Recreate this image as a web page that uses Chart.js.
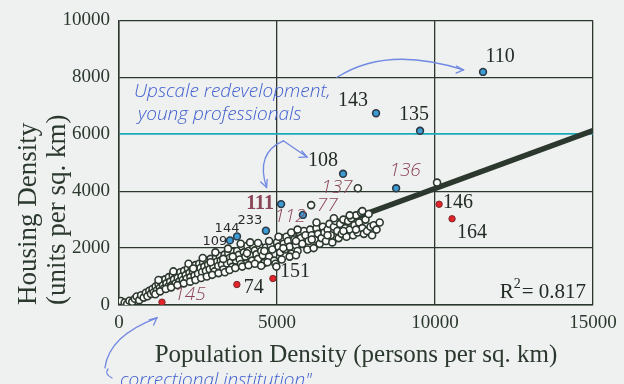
<!DOCTYPE html>
<html>
<head>
<meta charset="utf-8">
<script src="https://cdn.jsdelivr.net/npm/chart.js@4.4.1/dist/chart.umd.min.js"></script>
<style>
  html, body { margin: 0; padding: 0; background: #eff0f0; }
  #wrap { width: 624px; height: 384px; }
</style>
</head>
<body>
<div id="wrap"><canvas id="c" width="624" height="384"></canvas></div>
<script>
// Neighbourhoods: population density vs housing density
const cloudX = [30, 60, 180, 260, 330, 420, 500, 560, 640, 700, 780, 850, 900, 960, 1010,
  1060, 1100, 1160, 1200, 1250, 1290, 1330, 1390, 1420, 1460, 1500, 1550, 1580, 1620, 1670, 1700, 1740, 1790, 1820, 1860, 1910, 1940, 1980,
  2020, 2060, 2110, 2140, 2180, 2230, 2260, 2300, 2340, 2390, 2420, 2470, 2500, 2540, 2580, 2630, 2660, 2700, 2750, 2780, 2820, 2870, 2900, 2940, 2990,
  3020, 3070, 3100, 3140, 3190, 3220, 3260, 3300, 3340, 3390, 3420, 3460, 3510, 3540, 3580, 3620, 3670, 3700, 3740, 3790, 3820, 3860,
  3900, 3950, 4000, 4060, 4100, 4150, 4210, 4250, 4300, 4350, 4400, 4460, 4500, 4550, 4600, 4650, 4710, 4750, 4800, 4850, 4910, 4950, 5000,
  5050, 5100, 5150, 5210, 5250, 5300, 5350, 5400, 5460, 5500, 5550, 5600, 5650, 5710, 5750, 5800, 5850, 5900, 5960, 6000,
  6050, 6100, 6160, 6200, 6250, 6300, 6350, 6410, 6450, 6500, 6550, 6600, 6660, 6700, 6750, 6800, 6850, 6910, 6950,
  7000, 7050, 7100, 7160, 7200, 7250, 7300, 7350, 7410, 7450, 7500, 7550, 7600, 7660, 7700, 7750, 7800, 7850, 7900, 7960, 8010, 8060, 8150, 8250, 10065,
  1150, 1300, 1480, 1650, 1850, 2050, 2250, 2420, 2600, 2780, 2950, 3150, 3350, 3500, 3680, 3900, 4100, 4300, 4500, 4700, 4980,
  1250, 1720, 2200, 2650, 3050, 3450, 3850, 4150, 4400, 4750, 5050, 5450, 5650, 6250, 6800, 7300, 7700,
  2350, 2900, 3300, 3600, 4050, 4600, 5200, 5600, 6100, 6600, 7100, 7500, 5150, 5400, 5600];
const cloudY = [50, 140, 90, 40, 150, 110, 220, 300, 170, 340, 260, 430, 310, 500, 390,
  560, 450, 650, 520, 740, 600, 860, 700, 580, 900, 760, 640, 980, 820, 700, 1050, 900, 760, 1100, 960, 830, 1150, 1000,
  880, 1200, 1050, 920, 1280, 1130, 980, 1330, 1180, 1040, 1400, 1240, 1100, 1450, 1300, 1160, 1500, 1350, 1200, 1560, 1420, 1260, 1620, 1470, 1320,
  1180, 1680, 1520, 1370, 1720, 1560, 1420, 1250, 1770, 1600, 1460, 1820, 1660, 1500, 1340, 1870, 1720, 1560, 1900, 1760, 1600, 1440,
  2050, 1850, 1700, 2080, 1900, 1750, 1560, 2060, 1920, 1780, 1620, 2050, 1900, 1750, 1480, 2020, 1880, 1700, 2100, 1950, 1560, 1450, 2200,
  2050, 1850, 2350, 2150, 1950, 2400, 2250, 2050, 1800, 2450, 2300, 2100, 1900, 2550, 2350, 2150, 2600, 2450, 1950, 2250,
  2650, 2450, 2000, 2300, 2700, 2500, 2150, 2350, 2750, 2550, 2250, 2650, 2850, 2450, 2200, 2750, 2950, 2600, 2350,
  2850, 2500, 3000, 2700, 2400, 2950, 2650, 3050, 2450, 2800, 3150, 2550, 2900, 3250, 2700, 2500, 3000, 2600, 3200, 2750, 2450, 2800, 2650, 2900, 4300,
  380, 480, 560, 620, 700, 760, 820, 880, 950, 1000, 1060, 1120, 1150, 1230, 1300, 1350, 1400, 1450, 1380, 1500, 1350,
  880, 1180, 1450, 1650, 1850, 1980, 2150, 2200, 2180, 2250, 2400, 2550, 2650, 2900, 3050, 3150, 3300,
  1280, 1500, 1620, 1700, 1820, 1900, 2000, 2250, 2300, 2450, 2600, 2650, 1600, 1700, 1750];

// Highlighted neighbourhoods above the trend
const blueIds = ['110', '143', '135', '108', '136', '111', '112', '233', '144', '109'];
const blueX = [11520, 8134, 9527, 7090, 8770, 5130, 5820, 4650, 3735, 3510];
const blueY = [8190, 6740, 6120, 4610, 4100, 3545, 3165, 2610, 2410, 2270];

// Highlighted neighbourhoods below the trend
const redIds = ['146', '164', '151', '74', '145'];
const redX = [10130, 10540, 4870, 3730, 1360];
const redY = [3540, 3030, 930, 720, 100];

// Annotated ordinary points
const notedIds = ['137', '77'];
const notedX = [7560, 6080];
const notedY = [4100, 3510];

// Least-squares trend line end points and fit quality
const fitX = [0, 15000];
const fitY = [20, 6130];
const rSquared = '0.817';

const xTickValues = [0, 5000, 10000, 15000];
const yTickValues = [0, 2000, 4000, 6000, 8000, 10000];

const pts = (xs, ys) => xs.map((x, i) => ({ x: x, y: ys[i] }));

const INK = '#2c382e';
const TEXT = '#2b382d';
const BLUE_PEN = '#3f5fcf';
const MAROON = '#8a4658';

// label placement per id: dx, dy, style
const labelStyle = {
  '110': [17, -15, 'print'], '143': [-23, -12, 'print'], '135': [-6, -16, 'print'],
  '108': [-20, -13, 'print'], '151': [22, -7, 'print'], '74': [17, 3, 'print'],
  '146': [19, -2, 'print'], '164': [20, 14, 'print'],
  '233': [-16, -10, 'small'], '144': [-10, -8, 'small'], '109': [-15, 1, 'small'],
  '111': [-21, 0, 'boldpen'], '136': [9, -18, 'pen'], '137': [-21, -1, 'pen'],
  '77': [16, 0, 'pen'], '112': [-13, 2, 'pen'], '145': [28, -8, 'pen']
};

const paper = {
  id: 'paper',
  beforeDraw(chart) {
    const c = chart.ctx;
    c.save();
    c.fillStyle = '#eff0f0';
    c.fillRect(0, 0, chart.width, chart.height);
    c.restore();
  }
};

const notes = {
  id: 'notes',
  afterDatasetsDraw(chart) {
    const c = chart.ctx;
    // point labels
    [[2, blueIds], [3, redIds], [4, notedIds]].forEach(([di, ids]) => {
      const meta = chart.getDatasetMeta(di);
      meta.data.forEach((el, i) => {
        const id = ids[i];
        const [dx, dy, st] = labelStyle[id];
        c.save();
        c.textAlign = 'center';
        c.textBaseline = 'middle';
        if (st === 'print') { c.font = '20px "Liberation Serif"'; c.fillStyle = '#222b24'; }
        else if (st === 'small') { c.font = '13px "DejaVu Sans"'; c.fillStyle = '#2a2a2a'; }
        else if (st === 'boldpen') { c.font = 'bold 20px "Liberation Serif"'; c.fillStyle = MAROON; }
        else { c.font = 'italic 300 19px "Open Sans"'; c.fillStyle = MAROON; }
        c.fillText(id, el.x + dx, el.y + dy);
        c.restore();
      });
    });

    // R squared
    const a = chart.chartArea;
    c.save();
    c.fillStyle = '#222b24';
    c.textBaseline = 'alphabetic';
    c.textAlign = 'right';
    c.font = '21px "Liberation Serif"';
    const tail = '= ' + rSquared;
    const tw = c.measureText(tail).width;
    c.fillText(tail, a.right - 7, a.bottom - 7);
    c.font = '14px "Liberation Serif"';
    c.fillText('2', a.right - 7 - tw - 1, a.bottom - 17);
    const sw = c.measureText('2').width;
    c.font = '21px "Liberation Serif"';
    c.fillText('R', a.right - 7 - tw - sw - 1, a.bottom - 7);
    c.restore();

    // pen notes
    const xs = chart.scales.x, ys = chart.scales.y;
    const P = (vx, vy) => [xs.getPixelForValue(vx), ys.getPixelForValue(vy)];
    c.save();
    c.strokeStyle = '#7089e2';
    c.lineWidth = 1.3;
    c.lineCap = 'round';
    const head = (x, y, ang) => {
      c.beginPath();
      c.moveTo(x - 8 * Math.cos(ang - 0.45), y - 8 * Math.sin(ang - 0.45));
      c.lineTo(x, y);
      c.lineTo(x - 8 * Math.cos(ang + 0.45), y - 8 * Math.sin(ang + 0.45));
      c.stroke();
    };
    // toward 110
    let [x0, y0] = P(6900, 8000), [x1, y1] = P(10900, 8260);
    c.beginPath(); c.moveTo(x0, y0); c.quadraticCurveTo(x0 + 50, y0 - 32, x1, y1); c.stroke();
    head(x1, y1, 0.05);
    // toward 108 and 111
    [x0, y0] = P(5200, 5770);
    [x1, y1] = P(5950, 5200);
    c.beginPath(); c.moveTo(x0, y0); c.lineTo(x1, y1); c.stroke();
    head(x1, y1, 0.4);
    [x1, y1] = P(4670, 4130);
    c.beginPath(); c.moveTo(x0, y0); c.quadraticCurveTo(x0 - 28, y0 + 12, x1, y1); c.stroke();
    head(x1, y1, 1.2);
    // toward 145
    [x1, y1] = P(1200, -450);
    c.beginPath(); c.moveTo(x1 - 52, y1 + 50); c.quadraticCurveTo(x1 - 48, y1 + 18, x1, y1); c.stroke();
    head(x1, y1, -0.7);

    c.fillStyle = BLUE_PEN;
    c.font = 'italic 300 19px "Open Sans"';
    c.textBaseline = 'alphabetic';
    c.textAlign = 'left';
    c.fillText('Upscale redevelopment,', 134, 97);
    c.fillText('young professionals', 138, 120);
    c.font = 'italic 300 19px "Open Sans"';
    c.fillText('correctional institution"', 120, 386);
    c.beginPath(); c.moveTo(112, 378); c.quadraticCurveTo(104, 374, 108, 369); c.stroke();
    c.restore();
  }
};

const gridColor = ctx => (ctx.tick && ctx.tick.value === 6000) ? '#1eaabd' : INK;

new Chart(document.getElementById('c'), {
  type: 'scatter',
  data: {
    datasets: [
      {
        type: 'line', label: 'trend', data: pts(fitX, fitY),
        borderColor: INK, borderWidth: 5.5, pointRadius: 0, order: 9
      },
      {
        label: 'neighbourhoods', data: pts(cloudX, cloudY),
        pointRadius: 3.5, borderWidth: 1.6, borderColor: INK, backgroundColor: '#fbfbfb', order: 3
      },
      {
        label: 'above trend', data: pts(blueX, blueY),
        pointRadius: 3.4, borderWidth: 1.6, borderColor: '#2b3a45', backgroundColor: '#3d9bd6', order: 1
      },
      {
        label: 'below trend', data: pts(redX, redY),
        pointRadius: 3.2, borderWidth: 1, borderColor: '#7a2a2a', backgroundColor: '#e3232a', order: 1
      },
      {
        label: 'noted', data: pts(notedX, notedY),
        pointRadius: 3.5, borderWidth: 1.6, borderColor: INK, backgroundColor: '#fbfbfb', order: 1
      }
    ]
  },
  options: {
    responsive: false,
    animation: false,
    devicePixelRatio: 1,
    layout: { padding: { left: 0, top: 14, right: 31, bottom: 0 } },
    plugins: { legend: { display: false }, tooltip: { enabled: false } },
    scales: {
      x: {
        type: 'linear', min: 0, max: 15000,
        afterBuildTicks: s => { s.ticks = xTickValues.map(v => ({ value: v })); },
        afterFit: s => { s.height = 79; },
        ticks: { padding: 7, color: TEXT, font: { family: 'Liberation Serif', size: 19 }, maxRotation: 0, callback: v => String(v) },
        grid: { color: INK, lineWidth: 1.3, drawTicks: false },
        border: { color: INK, width: 1.5 },
        title: {
          display: true, text: 'Population Density (persons per sq. km)', color: TEXT,
          font: { family: 'Liberation Serif', size: 25, lineHeight: 1.2 }, padding: { top: 0, bottom: 14 }
        }
      },
      y: {
        type: 'linear', min: 0, max: 10000,
        afterBuildTicks: s => { s.ticks = yTickValues.map(v => ({ value: v })); },
        afterFit: s => { s.width = 119; },
        ticks: { padding: 9, color: TEXT, font: { family: 'Liberation Serif', size: 19 }, callback: v => String(v) },
        grid: { color: gridColor, lineWidth: ctx => (ctx.tick && ctx.tick.value === 6000) ? 1.8 : 1.3, drawTicks: false },
        border: { color: INK, width: 1.5 },
        title: {
          display: true, align: 'start', text: ['Housing Density', '(units per sq. km)'], color: TEXT,
          font: { family: 'Liberation Serif', size: 27, lineHeight: 1.08 }, padding: { top: 14, bottom: 0 }
        }
      }
    }
  },
  plugins: [paper, notes]
});
</script>
</body>
</html>
